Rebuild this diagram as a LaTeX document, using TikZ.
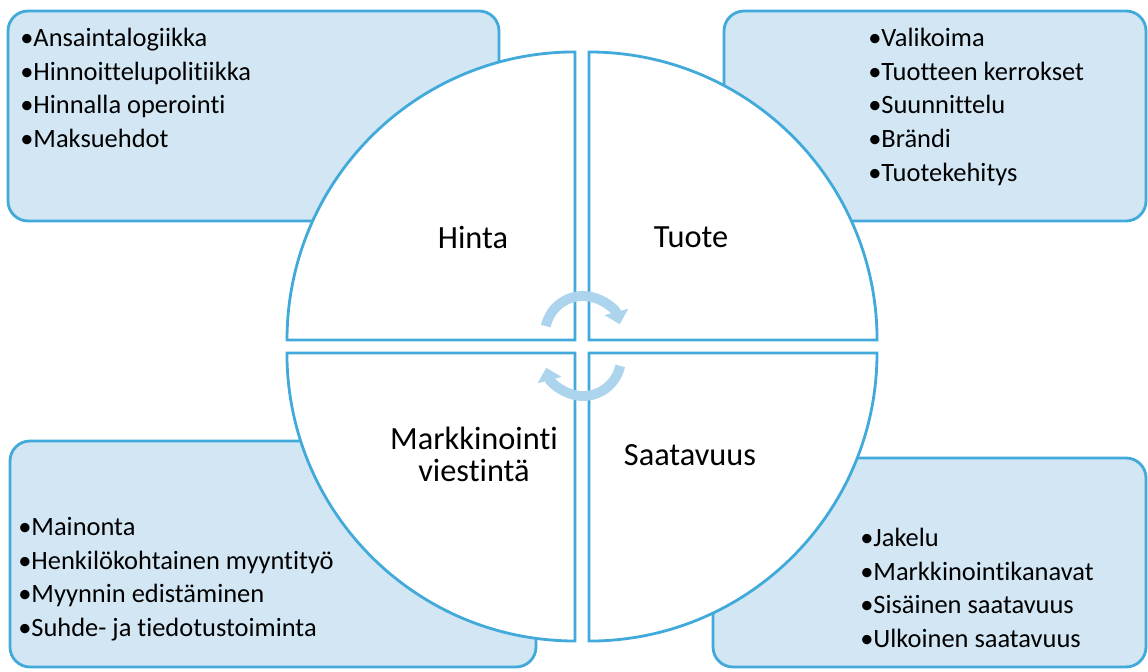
\documentclass[tikz,border=0pt]{standalone}
\usepackage{fontspec}
\setmainfont[Ligatures=NoCommon]{Carlito}
\usetikzlibrary{positioning, arrows.meta}
\definecolor{rimblue}{RGB}{65,170,218}
\definecolor{boxblue}{RGB}{210,230,244}
\definecolor{turnblue}{RGB}{172,212,236}

\begin{document}
\begin{tikzpicture}[x=0.025cm, y=0.025cm]
    % Define styles
    \tikzstyle{box} = [draw=rimblue, fill=boxblue, line width=2pt, rounded corners=0.5cm]
    \tikzstyle{part} = [draw=rimblue, fill=white, line width=2pt]
    \tikzstyle{list} = [anchor=north west, inner sep=0pt, align=left, font=\fontsize{18.8}{23.9}\selectfont]
    \tikzstyle{title} = [align=center, inner sep=0pt, font=\fontsize{23}{22.8}\selectfont]
    \tikzstyle{turn} = [draw=turnblue, line width=7pt, -{Triangle[length=9pt, width=17pt]}]

    \useasboundingbox (0,0) rectangle (1148,671);

    % Corner boxes (light blue)
    \draw[box] (8,450) rectangle (499,660);
    \draw[box] (724,450) rectangle (1146,660);
    \draw[box] (10,4) rectangle (536,230);
    \draw[box] (713,4) rectangle (1146,213);

    % Quarter circles (white)
    \draw[part] (575,331) -- (287,331) arc[start angle=180, end angle=90, radius=7.2cm] -- cycle;
    \draw[part] (589,331) -- (589,619) arc[start angle=90, end angle=0, radius=7.2cm] -- cycle;
    \draw[part] (575,318) -- (575,30) arc[start angle=270, end angle=180, radius=7.2cm] -- cycle;
    \draw[part] (589,318) -- (877,318) arc[start angle=0, end angle=-90, radius=7.2cm] -- cycle;

    % Turning arrows in the middle
    \draw[turn] (583,337) ++(168:0.95cm) arc[start angle=168, end angle=15, radius=0.95cm];
    \draw[turn] (583,313) ++(-12:0.95cm) arc[start angle=-12, end angle=-165, radius=0.95cm];

    % Quarter titles
    \node[title] (hinta) at (473,434) {Hinta};
    \node[title] (tuote) at (691,434) {Tuote};
    \node[title] (viestinta) at (474,217) {Markkinointi\\viestintä};
    \node[title] (saatavuus) at (690,216) {Saatavuus};

    % Bullet lists
    \node[list] (hintalist) at (20,643) {•Ansaintalogiikka\\•Hinnoittelupolitiikka\\•Hinnalla operointi\\•Maksuehdot};
    \node[list] (tuotelist) at (868,643) {•Valikoima\\•Tuotteen kerrokset\\•Suunnittelu\\•Brändi\\•Tuotekehitys};
    \node[list] (viestintalist) at (18,154) {•Mainonta\\•Henkilökohtainen myyntityö\\•Myynnin edistäminen\\•Suhde- ja tiedotustoiminta};
    \node[list] (saatavuuslist) at (860,143) {•Jakelu\\•Markkinointikanavat\\•Sisäinen saatavuus\\•Ulkoinen saatavuus};
\end{tikzpicture}
\end{document}
